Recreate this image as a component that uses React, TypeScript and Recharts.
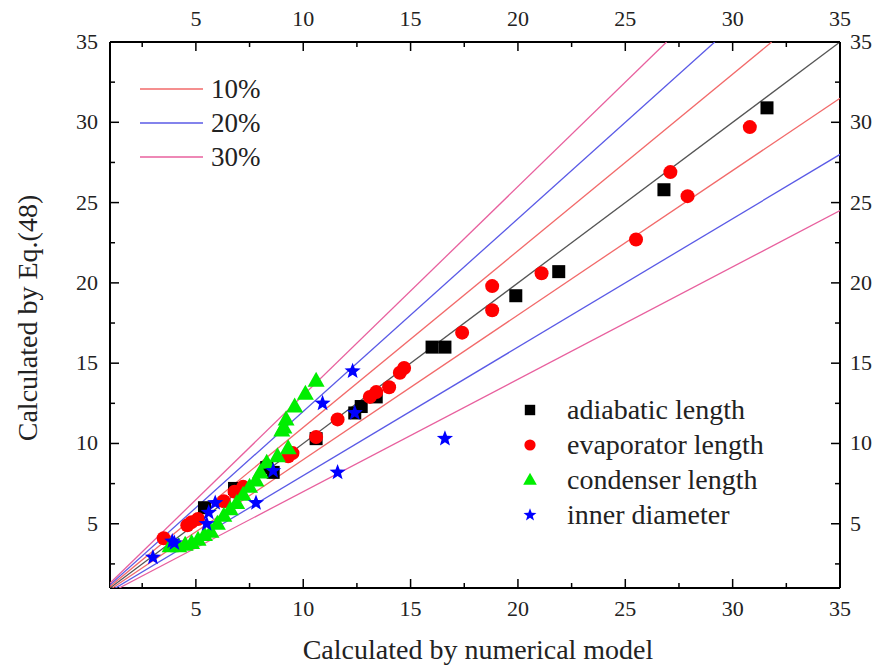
import React from "react";
import { ComposedChart, Scatter, XAxis, YAxis } from "recharts";

// axis ticks (major every 5, minor every 2.5)
const axisTicks = [2.5, 5, 7.5, 10, 12.5, 15, 17.5, 20, 22.5, 25, 27.5, 30, 32.5, 35];

// error bands: label, ratio offset, colour
const bandLabels = ["10%", "20%", "30%"];
const bandRatios = [0.1, 0.2, 0.3];
const bandColors = ["#f26a6a", "#5a5ae6", "#e8609e"];

const adiabatic = [
  { x: 5.4, y: 6.0 }, { x: 6.8, y: 7.2 }, { x: 8.3, y: 8.5 }, { x: 8.6, y: 8.2 },
  { x: 10.6, y: 10.3 }, { x: 12.4, y: 11.9 }, { x: 12.7, y: 12.3 }, { x: 13.4, y: 12.9 },
  { x: 16.0, y: 16.0 }, { x: 16.6, y: 16.0 }, { x: 19.9, y: 19.2 }, { x: 21.9, y: 20.7 },
  { x: 26.8, y: 25.8 }, { x: 31.6, y: 30.9 },
];

const evaporator = [
  { x: 3.5, y: 4.1 }, { x: 4.6, y: 4.9 }, { x: 4.8, y: 5.1 }, { x: 5.1, y: 5.3 },
  { x: 6.3, y: 6.4 }, { x: 6.8, y: 7.0 }, { x: 7.2, y: 7.3 }, { x: 9.3, y: 9.2 },
  { x: 9.5, y: 9.4 }, { x: 10.6, y: 10.4 }, { x: 11.6, y: 11.5 }, { x: 13.1, y: 12.9 },
  { x: 13.4, y: 13.2 }, { x: 14.0, y: 13.5 }, { x: 14.5, y: 14.4 }, { x: 14.7, y: 14.7 },
  { x: 17.4, y: 16.9 }, { x: 18.8, y: 18.3 }, { x: 18.8, y: 19.8 }, { x: 21.1, y: 20.6 },
  { x: 25.5, y: 22.7 }, { x: 27.1, y: 26.9 }, { x: 27.9, y: 25.4 }, { x: 30.8, y: 29.7 },
];

const condenser = [
  { x: 3.8, y: 3.6 }, { x: 4.2, y: 3.6 }, { x: 4.5, y: 3.7 }, { x: 4.8, y: 3.8 },
  { x: 5.1, y: 4.0 }, { x: 5.4, y: 4.3 }, { x: 5.7, y: 4.5 }, { x: 6.0, y: 5.0 },
  { x: 6.3, y: 5.5 }, { x: 6.6, y: 5.9 }, { x: 6.9, y: 6.3 }, { x: 7.2, y: 6.8 },
  { x: 7.5, y: 7.3 }, { x: 7.8, y: 7.7 }, { x: 8.0, y: 8.2 }, { x: 8.3, y: 8.8 },
  { x: 8.8, y: 9.2 }, { x: 9.3, y: 9.7 }, { x: 9.0, y: 10.8 }, { x: 9.1, y: 11.0 },
  { x: 9.2, y: 11.5 }, { x: 9.6, y: 12.3 }, { x: 10.1, y: 13.1 }, { x: 10.6, y: 13.9 },
];

const innerDiameter = [
  { x: 3.0, y: 2.9 }, { x: 3.9, y: 3.9 }, { x: 4.0, y: 3.8 }, { x: 5.5, y: 5.0 },
  { x: 5.6, y: 5.7 }, { x: 5.9, y: 6.3 }, { x: 7.8, y: 6.3 }, { x: 8.6, y: 8.3 },
  { x: 10.9, y: 12.5 }, { x: 11.6, y: 8.2 }, { x: 12.3, y: 14.5 }, { x: 12.4, y: 11.9 },
  { x: 16.6, y: 10.3 },
];

const seriesNames = ["adiabatic length", "evaporator length", "condenser length", "inner diameter"];

const LO = 1;
const HI = 35;
const FONT = "'Liberation Serif', 'Times New Roman', serif";

// line segment y = k*x clipped to the axis box
const ratioLine = (k: number) =>
  k >= 1
    ? [{ x: LO, y: LO * k }, { x: HI / k, y: HI }]
    : [{ x: LO / k, y: LO }, { x: HI, y: HI * k }];

const Square = (p: any) => <rect x={p.cx - 6.5} y={p.cy - 6.5} width={13} height={13} fill="#000" />;
const Dot = (p: any) => <circle cx={p.cx} cy={p.cy} r={7} fill="#ff0000" />;
const Tri = (p: any) => (
  <polygon points={`${p.cx},${p.cy - 9} ${p.cx - 8.5},${p.cy + 6} ${p.cx + 8.5},${p.cy + 6}`} fill="#00ee00" />
);
const starPoints = (cx: number, cy: number, R: number) => {
  const pts: string[] = [];
  for (let i = 0; i < 10; i++) {
    const r = i % 2 === 0 ? R : R * 0.42;
    const a = -Math.PI / 2 + (i * Math.PI) / 5;
    pts.push(`${cx + r * Math.cos(a)},${cy + r * Math.sin(a)}`);
  }
  return pts.join(" ");
};
const Star = (p: any) => <polygon points={starPoints(p.cx, p.cy, 8.5)} fill="#0000ff" />;
const NoDot = () => <g />;

const isMajor = (v: number) => v % 5 === 0;
const labelStyle = { fontFamily: FONT, fontSize: 22, fill: "#222" };

const BottomTick = ({ x, y, payload }: any) => (
  <g>
    <line x1={x} x2={x} y1={y} y2={y - (isMajor(payload.value) ? 9 : 5)} stroke="#000" strokeWidth={1.5} />
    {isMajor(payload.value) && <text x={x} y={y + 28} textAnchor="middle" {...labelStyle}>{payload.value}</text>}
  </g>
);
const TopTick = ({ x, y, payload }: any) => (
  <g>
    <line x1={x} x2={x} y1={y} y2={y + (isMajor(payload.value) ? 9 : 5)} stroke="#000" strokeWidth={1.5} />
    {isMajor(payload.value) && <text x={x} y={y - 16} textAnchor="middle" {...labelStyle}>{payload.value}</text>}
  </g>
);
const LeftTick = ({ x, y, payload }: any) => (
  <g>
    <line x1={x} x2={x + (isMajor(payload.value) ? 9 : 5)} y1={y} y2={y} stroke="#000" strokeWidth={1.5} />
    {isMajor(payload.value) && <text x={x - 12} y={y + 7} textAnchor="end" {...labelStyle}>{payload.value}</text>}
  </g>
);
const RightTick = ({ x, y, payload }: any) => (
  <g>
    <line x1={x} x2={x - (isMajor(payload.value) ? 9 : 5)} y1={y} y2={y} stroke="#000" strokeWidth={1.5} />
    {isMajor(payload.value) && <text x={x + 10} y={y + 7} textAnchor="start" {...labelStyle}>{payload.value}</text>}
  </g>
);

const legendShapes = [Square, Dot, Tri, Star];

export default function App() {
  return (
    <div style={{ position: "absolute", left: 0, top: 0, width: 877, height: 670, background: "#fff" }}>
      <ComposedChart width={877} height={670} margin={{ top: 0, right: 0, bottom: 0, left: 0 }}>
        <XAxis xAxisId="b" type="number" dataKey="x" domain={[LO, HI]} ticks={axisTicks} allowDataOverflow
          orientation="bottom" height={82} tickSize={0} tickMargin={0} tickLine={false}
          axisLine={{ stroke: "#000", strokeWidth: 2 }} tick={<BottomTick />} interval={0} />
        <XAxis xAxisId="t" type="number" dataKey="x" domain={[LO, HI]} ticks={axisTicks} allowDataOverflow
          orientation="top" height={42} tickSize={0} tickMargin={0} tickLine={false}
          axisLine={{ stroke: "#000", strokeWidth: 2 }} tick={<TopTick />} interval={0} />
        <YAxis yAxisId="l" type="number" dataKey="y" domain={[LO, HI]} ticks={axisTicks} allowDataOverflow
          orientation="left" width={110} tickSize={0} tickMargin={0} tickLine={false}
          axisLine={{ stroke: "#000", strokeWidth: 2 }} tick={<LeftTick />} interval={0} />
        <YAxis yAxisId="r" type="number" dataKey="y" domain={[LO, HI]} ticks={axisTicks} allowDataOverflow
          orientation="right" width={37} tickSize={0} tickMargin={0} tickLine={false}
          axisLine={{ stroke: "#000", strokeWidth: 2 }} tick={<RightTick />} interval={0} />

        <Scatter xAxisId="t" yAxisId="r" data={ratioLine(1)} line={{ stroke: "#555", strokeWidth: 1.3 }}
          shape={NoDot} isAnimationActive={false} />
        {bandRatios.map((r, i) => (
          <Scatter key={"u" + i} xAxisId="b" yAxisId="l" data={ratioLine(1 + r)}
            line={{ stroke: bandColors[i], strokeWidth: 1.3 }} shape={NoDot} isAnimationActive={false} />
        ))}
        {bandRatios.map((r, i) => (
          <Scatter key={"d" + i} xAxisId="b" yAxisId="l" data={ratioLine(1 - r)}
            line={{ stroke: bandColors[i], strokeWidth: 1.3 }} shape={NoDot} isAnimationActive={false} />
        ))}

        <Scatter xAxisId="b" yAxisId="l" data={adiabatic} shape={Square} isAnimationActive={false} />
        <Scatter xAxisId="b" yAxisId="l" data={evaporator} shape={Dot} isAnimationActive={false} />
        <Scatter xAxisId="b" yAxisId="l" data={condenser} shape={Tri} isAnimationActive={false} />
        <Scatter xAxisId="b" yAxisId="l" data={innerDiameter} shape={Star} isAnimationActive={false} />
      </ComposedChart>

      <svg width={877} height={670} style={{ position: "absolute", left: 0, top: 0, pointerEvents: "none" }}>
        {bandLabels.map((t, i) => (
          <g key={t}>
            <line x1={140} x2={203} y1={89 + i * 34} y2={89 + i * 34} stroke={bandColors[i]} strokeWidth={1.5} />
            <text x={211} y={98 + i * 34} fontFamily={FONT} fontSize={27} fill="#222">{t}</text>
          </g>
        ))}
        {seriesNames.map((t, i) => {
          const S = legendShapes[i];
          const cy = 410 + i * 35;
          return (
            <g key={t}>
              <g transform={`translate(530 ${cy}) scale(0.8) translate(-530 ${-cy})`}>
                <S cx={530} cy={cy} />
              </g>
              <text x={567} y={cy + 9} fontFamily={FONT} fontSize={28} fill="#222">{t}</text>
            </g>
          );
        })}
        <text x={478} y={659} textAnchor="middle" fontFamily={FONT} fontSize={28} fill="#222">
          Calculated by numerical model
        </text>
        <text x={0} y={0} transform="translate(37 318) rotate(-90)" textAnchor="middle" fontFamily={FONT}
          fontSize={28} fill="#222">
          Calculated by Eq.(48)
        </text>
      </svg>
    </div>
  );
}
